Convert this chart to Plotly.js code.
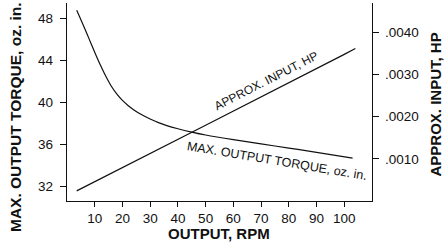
<!DOCTYPE html>
<html>
<head>
<meta charset="utf-8">
<script src="https://cdn.plot.ly/plotly-3.0.1.min.js"></script>
<style>html,body{margin:0;padding:0;background:#fff;}#chart{width:444px;height:246px;}</style>
</head>
<body>
<div id="chart"></div>
<script>
// Output speed (RPM) and max output torque (oz. in.)
const torqueRpm = [3.5, 6, 8, 10, 12, 14, 16, 18, 20, 22, 24, 27, 30, 33, 36, 40, 45, 50, 60, 70, 80, 90, 103];
const torqueOzIn = [48.8, 47.3, 46.05, 44.8, 43.6, 42.5, 41.55, 40.8, 40.2, 39.72, 39.32, 38.83, 38.42, 38.08, 37.8, 37.5, 37.18, 36.9, 36.45, 36.05, 35.65, 35.25, 34.7];
// Output speed (RPM) and approx. input power (HP)
const hpRpm = [3.5, 10, 50, 100, 104];
const inputHp = [0.00024, 0.00046, 0.00180, 0.00348, 0.00362];
// Tick labels
const xTicks = [10, 20, 30, 40, 50, 60, 70, 80, 90, 100];
const leftTicks = [32, 36, 40, 44, 48];
const rightTicks = [0.001, 0.002, 0.003, 0.004];
const rightTickText = ['.0010', '.0020', '.0030', '.0040'];

const FONT = '"Liberation Sans", Arial, Helvetica, sans-serif';
const PW = 305, PH = 198; // plot area size, used to place annotation text

const traces = [
  {x: torqueRpm, y: torqueOzIn, type: 'scatter', mode: 'lines', line: {color: '#111', width: 1.2, shape: 'spline', smoothing: 1}, yaxis: 'y', hoverinfo: 'skip'},
  {x: hpRpm, y: inputHp, type: 'scatter', mode: 'lines', line: {color: '#111', width: 1.2}, yaxis: 'y2', hoverinfo: 'skip'}
];

const tickFont = {family: FONT, size: 13.5, color: '#111'};
const titleFont = {family: FONT, size: 15, color: '#111'};

const layout = {
  width: 444, height: 246,
  margin: {l: 67, r: 72, t: 3, b: 45},
  paper_bgcolor: '#fff', plot_bgcolor: '#fff',
  showlegend: false,
  font: {family: FONT, color: '#111', size: 13},
  xaxis: {
    range: [0, 110], tickvals: xTicks, ticks: 'outside', ticklen: 5, tickcolor: '#111',
    showline: true, linecolor: '#111', linewidth: 1.2, showgrid: false, zeroline: false,
    tickfont: tickFont
  },
  yaxis: {
    range: [30.6, 49.5], tickvals: leftTicks, ticks: 'outside', ticklen: 6, tickcolor: '#111',
    showline: true, linecolor: '#111', linewidth: 1.2, showgrid: false, zeroline: false,
    tickfont: tickFont, ticklabelstandoff: 4
  },
  yaxis2: {
    overlaying: 'y', side: 'right',
    range: [0, 0.0047], tickvals: rightTicks, ticktext: rightTickText, ticks: 'outside', ticklen: 6, tickcolor: '#111',
    showline: true, linecolor: '#111', linewidth: 1.2, showgrid: false, zeroline: false,
    tickfont: tickFont, ticklabelstandoff: 3
  },
  annotations: [
    {xref: 'paper', yref: 'paper', x: (219 - 67) / PW, y: (201 - 233) / PH, xanchor: 'center', yanchor: 'middle',
     text: '<b>OUTPUT, RPM</b>', showarrow: false, font: titleFont},
    {xref: 'paper', yref: 'paper', x: (16 - 67) / PW, y: (201 - 117) / PH, xanchor: 'center', yanchor: 'middle',
     text: '<b>MAX. OUTPUT TORQUE, oz. in.</b>', showarrow: false, textangle: -90, font: {family: FONT, size: 15.5, color: '#111'}},
    {xref: 'paper', yref: 'paper', x: (435 - 67) / PW, y: (201 - 104.5) / PH, xanchor: 'center', yanchor: 'middle',
     text: '<b>APPROX. INPUT, HP</b>', showarrow: false, textangle: -90, font: titleFont},
    {xref: 'paper', yref: 'paper', x: (266 - 67) / PW, y: (201 - 81) / PH, xanchor: 'center', yanchor: 'middle',
     text: 'APPROX. INPUT, HP', showarrow: false, textangle: -27, font: {family: FONT, size: 12, color: '#111'}},
    {xref: 'paper', yref: 'paper', x: (277 - 67) / PW, y: (201 - 161) / PH, xanchor: 'center', yanchor: 'middle',
     text: 'MAX. OUTPUT TORQUE, oz. in.', showarrow: false, textangle: 9.5, font: {family: FONT, size: 12.5, color: '#111'}}
  ]
};

Plotly.newPlot('chart', traces, layout, {staticPlot: true, displayModeBar: false});
</script>
</body>
</html>
